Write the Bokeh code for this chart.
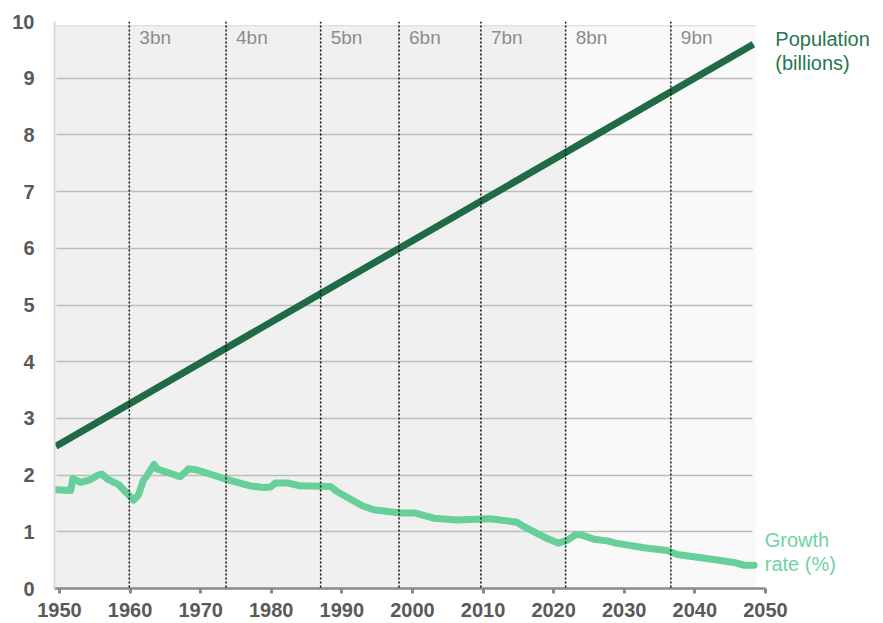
from bokeh.plotting import figure
from bokeh.models import (BoxAnnotation, Span, Label, FixedTicker, Range1d)
from bokeh.embed import file_html
from bokeh.resources import INLINE

# ---- data ----
pop_years = [1949.5, 2048.3]
pop_values = [2.51, 9.60]

growth_years = [1949.6, 1951.6, 1951.9, 1953.0, 1954.2, 1955.3, 1956.0, 1956.8, 1958.4,
                1960.5, 1961.2, 1961.9, 1962.4, 1963.4, 1963.8, 1967.1, 1968.3, 1969.5,
                1973.8, 1977.0, 1978.9, 1979.9, 1980.6, 1982.3, 1984.1, 1988.4, 1989.3,
                1992.9, 1994.5, 1998.3, 2000.4, 2003.0, 2006.3, 2011.0, 2014.8, 2015.8,
                2019.1, 2020.7, 2021.9, 2023.1, 2023.8, 2025.7, 2027.6, 2028.8, 2032.8,
                2036.1, 2037.5, 2042.7, 2045.5, 2047.0, 2048.4]
growth_values = [1.74, 1.73, 1.94, 1.87, 1.91, 1.99, 2.02, 1.93, 1.83,
                 1.56, 1.65, 1.91, 1.99, 2.19, 2.11, 1.97, 2.11, 2.09,
                 1.92, 1.81, 1.78, 1.79, 1.86, 1.86, 1.81, 1.80, 1.71,
                 1.46, 1.39, 1.33, 1.33, 1.24, 1.21, 1.23, 1.17, 1.09,
                 0.88, 0.80, 0.85, 0.95, 0.95, 0.87, 0.84, 0.80, 0.72,
                 0.67, 0.60, 0.51, 0.46, 0.41, 0.41]

milestone_years = [1959.9, 1973.6, 1987.0, 1998.1, 2009.7, 2021.7, 2036.6]
milestone_labels = ["3bn", "4bn", "5bn", "6bn", "7bn", "8bn", "9bn"]

x_ticks = [1950, 1960, 1970, 1980, 1990, 2000, 2010, 2020, 2030, 2040, 2050]
y_ticks = [0, 1, 2, 3, 4, 5, 6, 7, 8, 9, 10]

series_names = [("Population", "(billions)"), ("Growth", "rate (%)")]

FONT = "Liberation Sans"
POP_COLOR = "#1f6b45"
GROWTH_COLOR = "#66cf9a"

X0, X_PLOT_END, X_END = 1949.3, 2048.6, 2066.3

p = figure(width=880, height=625, output_backend="svg", toolbar_location=None,
           x_range=Range1d(X0, X_END), y_range=Range1d(0, 10),
           min_border_left=54, min_border_right=0, min_border_top=21,
           min_border_bottom=37)
p.outline_line_color = None
p.background_fill_color = "white"
p.border_fill_color = "white"

# backgrounds
p.add_layout(BoxAnnotation(right=milestone_years[5], bottom=0, top=9.93,
                           fill_color="#f0f0f0", fill_alpha=1, line_alpha=0, level="image"))
p.add_layout(BoxAnnotation(left=milestone_years[5], right=X_PLOT_END, bottom=0, top=9.93,
                           fill_color="#f9f9f9", fill_alpha=1, line_alpha=0, level="image"))
p.add_layout(BoxAnnotation(right=X_PLOT_END, bottom=9.915, top=9.94,
                           fill_color="#dedede", fill_alpha=1, line_alpha=0, level="image"))

# grid
p.xgrid.grid_line_color = None
p.ygrid.grid_line_color = "#bdbdbd"
p.ygrid.grid_line_width = 1.6
p.ygrid.bounds = (0.5, 9.5)
p.ygrid.cross_bounds = (X0 + 0.3, X_PLOT_END - 0.4)

# axes
p.xaxis.ticker = FixedTicker(ticks=x_ticks)
p.xaxis.bounds = (X0, 2050.0)
p.yaxis.ticker = FixedTicker(ticks=y_ticks)
for ax in (p.xaxis, p.yaxis):
    ax.major_label_text_font = FONT
    ax.major_label_text_font_style = "bold"
    ax.major_label_text_font_size = "20px"
    ax.major_label_text_color = "#595959"
    ax.minor_tick_line_color = None
p.xaxis.axis_line_color = "#8a8a8a"
p.xaxis.axis_line_width = 2.5
p.xaxis.major_tick_line_color = "#8a8a8a"
p.xaxis.major_tick_line_width = 3
p.xaxis.major_tick_out = 5
p.xaxis.major_tick_in = 0
p.xaxis.major_label_standoff = 9
p.yaxis.axis_line_color = "#dcdcdc"
p.yaxis.axis_line_width = 2
p.yaxis.major_tick_line_color = None
p.yaxis.major_tick_out = 0
p.yaxis.major_tick_in = 0
p.yaxis.major_label_standoff = 20

# milestone lines and labels
for yr, lab in zip(milestone_years, milestone_labels):
    p.add_layout(Span(location=yr, dimension="height", line_color="#111111",
                      line_width=1.5, line_dash="2 2"))
    p.add_layout(Label(x=yr, y=10, text=lab, x_offset=10, y_offset=-16,
                       text_baseline="alphabetic", text_font=FONT,
                       text_font_size="19px", text_color="#8c8c8c"))

# lines
p.line(pop_years, pop_values, line_color=POP_COLOR, line_width=7)
p.line(growth_years, growth_values, line_color=GROWTH_COLOR, line_width=7,
       line_join="round", line_cap="round")

# series labels (to the right of the plot area)
label_specs = [(2051.4, 9.56, "#25774f"), (2049.9, 0.74, "#6fd3a2")]
for (l1, l2), (lx, ly, col) in zip(series_names, label_specs):
    for txt, yoff in ((l1, 7), (l2, -17)):
        p.add_layout(Label(x=lx, y=ly, y_offset=yoff, text=txt, text_font=FONT,
                           text_font_size="20px", text_color=col,
                           text_baseline="alphabetic"))

open("out.html", "w").write(file_html(p, INLINE))
